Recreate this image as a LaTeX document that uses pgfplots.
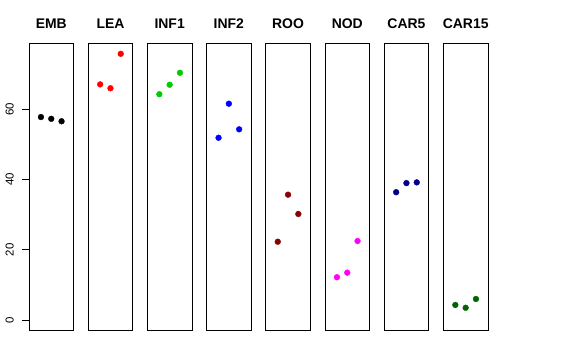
\documentclass[border=0pt]{standalone}
\usepackage{pgfplots}
\pgfplotsset{compat=1.18}
\usepackage{fontspec}
\setmainfont{Liberation Sans}
\definecolor{rgreen}{RGB}{0,205,0}
\definecolor{rdarkred}{RGB}{139,0,0}
\definecolor{rmagenta}{RGB}{255,0,255}
\definecolor{rdarkblue}{RGB}{0,0,139}
\definecolor{rdarkgreen}{RGB}{0,100,0}
\pgfplotsset{
  panel/.style={
    scale only axis, width=44.5bp, height=287.4bp,
    anchor=south west,
    xmin=-0.16, xmax=4.16, ymin=-3.03, ymax=78.8,
    axis line style={line width=0.75bp},
    xtick=\empty, ytick=\empty,
    title style={at={(0.5,1)}, anchor=base, yshift=9bp, font=\fontsize{14}{14}\selectfont\bfseries},
    clip=false,
  },
  pts/.style={only marks, mark=*, mark size=2.9bp, mark options={draw=#1, fill=#1}},
}
\begin{document}
\begin{tikzpicture}
\useasboundingbox (0,0) rectangle (576bp,360bp);
\begin{axis}[panel, at={(29bp,29.3bp)}, title={EMB},
  ytick={0,20,40,60}, ytick pos=left, tick align=outside, major tick length=7bp,
  tick style={line width=0.75bp, black},
  yticklabel shift={8bp},
  yticklabel style={rotate=90, anchor=south, inner sep=0pt, font=\fontsize{11.5}{11.5}\selectfont},
  /pgf/number format/assume math mode=true]
\addplot[pts=black] coordinates {(1,57.8) (2,57.3) (3,56.6)};
\end{axis}
\begin{axis}[panel, at={(88.2bp,29.3bp)}, title={LEA}]
\addplot[pts=red] coordinates {(1,67.1) (2,66.0) (3,75.8)};
\end{axis}
\begin{axis}[panel, at={(147.4bp,29.3bp)}, title={INF1}]
\addplot[pts=rgreen] coordinates {(1,64.3) (2,67.0) (3,70.4)};
\end{axis}
\begin{axis}[panel, at={(206.6bp,29.3bp)}, title={INF2}]
\addplot[pts=blue] coordinates {(1,51.9) (2,61.6) (3,54.3)};
\end{axis}
\begin{axis}[panel, at={(265.8bp,29.3bp)}, title={ROO}]
\addplot[pts=rdarkred] coordinates {(1,22.3) (2,35.7) (3,30.2)};
\end{axis}
\begin{axis}[panel, at={(325bp,29.3bp)}, title={NOD}]
\addplot[pts=rmagenta] coordinates {(1,12.2) (2,13.5) (3,22.5)};
\end{axis}
\begin{axis}[panel, at={(384.2bp,29.3bp)}, title={CAR5}]
\addplot[pts=rdarkblue] coordinates {(1,36.4) (2,39.0) (3,39.2)};
\end{axis}
\begin{axis}[panel, at={(443.4bp,29.3bp)}, title={CAR15}]
\addplot[pts=rdarkgreen] coordinates {(1,4.3) (2,3.5) (3,6.0)};
\end{axis}
\end{tikzpicture}
\end{document}
